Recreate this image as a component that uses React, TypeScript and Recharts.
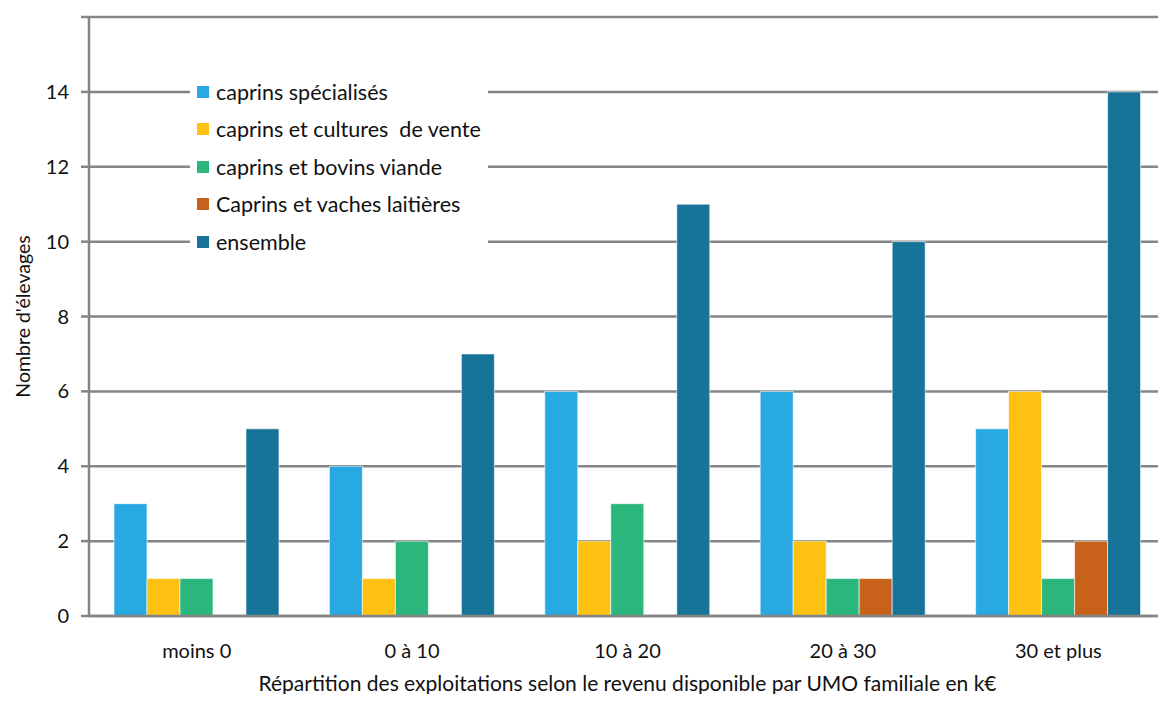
import React from "react";
import { BarChart, Bar, XAxis, YAxis, CartesianGrid, Legend, Label } from "recharts";

const categories = ["moins 0", "0 à 10", "10 à 20", "20 à 30", "30 et plus"];
const specialises = [3, 4, 6, 6, 5];
const culturesVente = [1, 1, 2, 2, 6];
const bovinsViande = [1, 2, 3, 1, 1];
const vachesLaitieres = [0, 0, 0, 1, 2];
const ensemble = [5, 7, 11, 10, 14];
const yTicks = [0, 2, 4, 6, 8, 10, 12, 14, 16];

const SERIES = [
  { key: "spec", name: "caprins spécialisés", color: "#29A9E1", values: specialises },
  { key: "cult", name: "caprins et cultures  de vente", color: "#FDC113", values: culturesVente },
  { key: "bov", name: "caprins et bovins viande", color: "#2BB67D", values: bovinsViande },
  { key: "vach", name: "Caprins et vaches laitières", color: "#C8621A", values: vachesLaitieres },
  { key: "ens", name: "ensemble", color: "#187399", values: ensemble },
];

const data = categories.map((cat, i) => {
  const row: Record<string, string | number> = { cat };
  SERIES.forEach(s => { row[s.key] = s.values[i]; });
  return row;
});

const FONT = "Lato, 'Open Sans', sans-serif";
const GRAY = "#858585";

// legend keeps the series order (payload order gets shuffled)
function LegendBox() {
  return (
    <div style={{ background: "#fff", padding: "8px 0 8px 7px", fontFamily: FONT }}>
      {SERIES.map(s => (
        <div key={s.key} style={{ display: "flex", alignItems: "center", height: 37.5 }}>
          <span style={{ width: 12, height: 12, background: s.color, marginRight: 7, display: "inline-block" }} />
          <span style={{ fontSize: 21.5, color: "#111", whiteSpace: "pre" }}>{s.name}</span>
        </div>
      ))}
    </div>
  );
}

const YTitle = (props: any) => {
  const vb = props.viewBox || {};
  const cy = vb.y + vb.height / 2;
  return (
    <text
      x={22}
      y={cy}
      transform={`rotate(-90 22 ${cy})`}
      textAnchor="middle"
      dominantBaseline="central"
      style={{ fill: "#111", fontSize: 19.5, fontFamily: FONT }}
    >
      Nombre d'élevages
    </text>
  );
};

const XTitle = (props: any) => {
  const vb = props.viewBox || {};
  return (
    <text
      x={vb.x + vb.width / 2}
      y={vb.y + 75}
      textAnchor="middle"
      style={{ fill: "#111", fontSize: 21, fontFamily: FONT }}
    >
      Répartition des exploitations selon le revenu disponible par UMO familiale en k€
    </text>
  );
};

export default function App() {
  return (
    <div style={{ margin: -8, width: 1166, height: 702 }}>
      <BarChart
        width={1166}
        height={702}
        data={data}
        margin={{ top: 17, right: 0, left: 0, bottom: 0 }}
        barGap={0}
        barCategoryGap="11.6%"
        style={{ background: "#fff" }}
      >
        <CartesianGrid horizontal vertical={false} stroke={GRAY} strokeWidth={2.5} />
        <XAxis
          dataKey="cat"
          height={86}
          tickLine={false}
          axisLine={{ stroke: GRAY, strokeWidth: 2.5 }}
          tick={{ fill: "#111", fontSize: 20, fontFamily: FONT }}
          tickMargin={22}
        >
          <Label content={<XTitle />} />
        </XAxis>
        <YAxis
          width={89}
          domain={[0, 16]}
          ticks={yTicks}
          interval={0}
          tickSize={8}
          tickMargin={12}
          tickLine={{ stroke: GRAY, strokeWidth: 2.5 }}
          axisLine={{ stroke: GRAY, strokeWidth: 2.5 }}
          tick={{ fill: "#111", fontSize: 20, fontFamily: FONT }}
          tickFormatter={(v: number) => (v === 16 ? "" : String(v))}
        >
          <Label content={<YTitle />} />
        </YAxis>
        <Legend
          layout="vertical"
          align="center"
          verticalAlign="middle"
          content={<LegendBox />}
          wrapperStyle={{ left: 190, top: 65, width: 298 }}
        />
        {SERIES.map(s => (
          <Bar
            key={s.key}
            dataKey={s.key}
            name={s.name}
            fill={s.color}
            stroke="#ffffff"
            strokeWidth={0.6}
            isAnimationActive={false}
          />
        ))}
      </BarChart>
    </div>
  );
}
